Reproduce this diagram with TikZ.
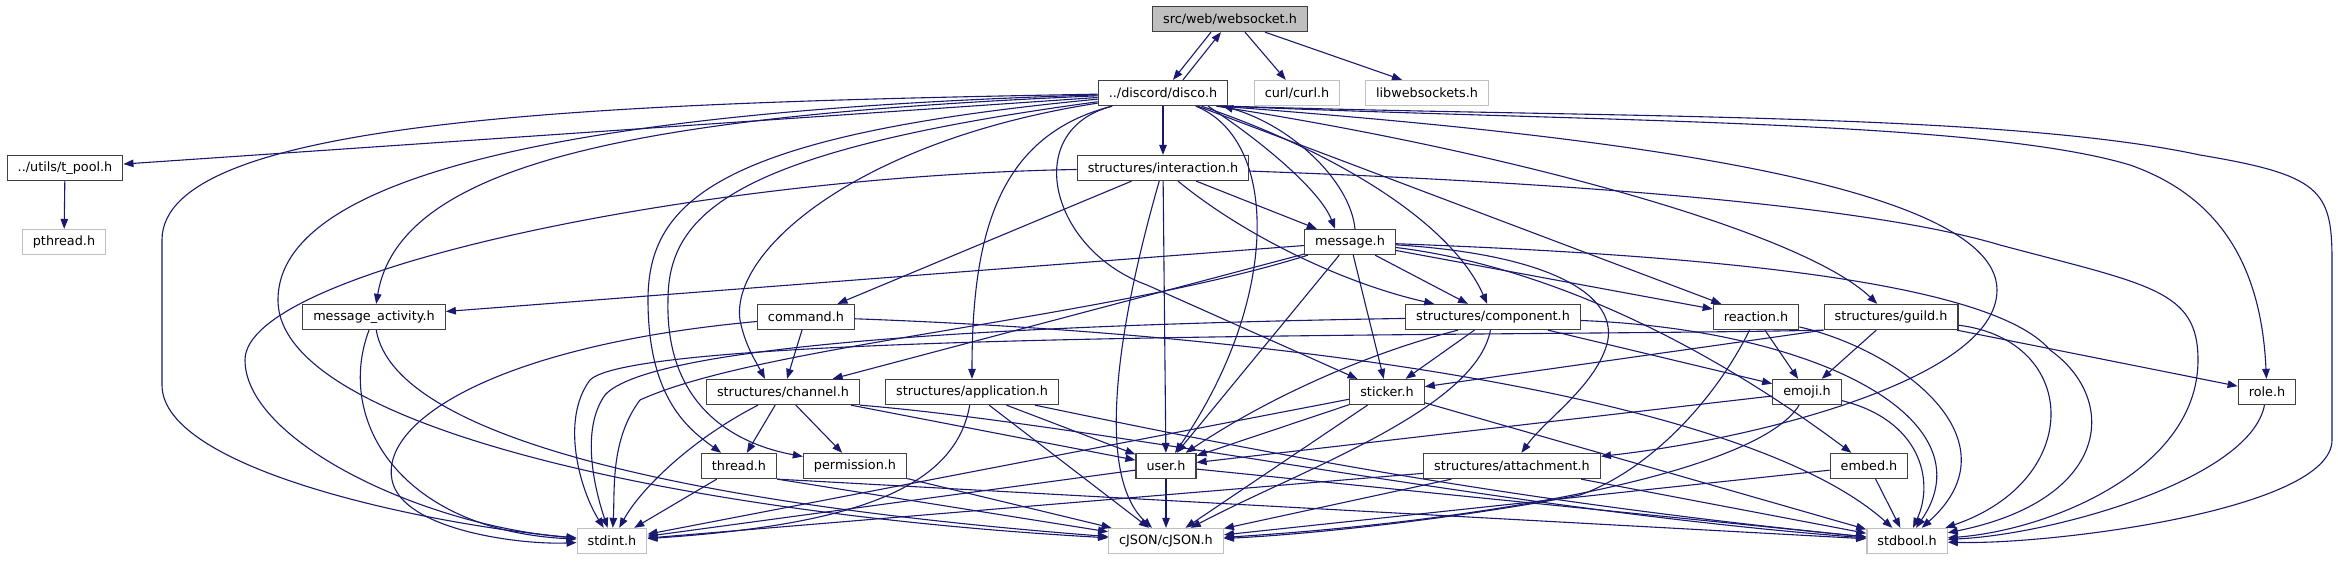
\documentclass[tikz,border=0pt]{standalone}
\usepackage{fontspec}
\setmainfont{DejaVu Sans}
\usetikzlibrary{arrows.meta}
\definecolor{edgec}{HTML}{191970}
\definecolor{nodeb}{HTML}{404040}
\definecolor{extb}{HTML}{BFBFBF}
\begin{document}
\begin{tikzpicture}[x=1pt,y=-1pt,
  box/.style={draw=nodeb, line width=1.3pt, fill=white, inner xsep=10.5pt, inner ysep=0pt, minimum height=25pt, font=\fontsize{12.8}{15}\selectfont, text=black},
  ext/.style={box, draw=extb},
  root/.style={box, fill=extb},
  dep/.style={draw=edgec, line width=1.1pt, -{Triangle[length=10pt,width=7.5pt]}},
]
\fill[white] (0,0) rectangle (2338,560);
\useasboundingbox (0,0) rectangle (2338,560);

% nodes
\node[root] (ws) at (1230,19) {src/web/websocket.h};
\node[box] (disco) at (1163,93) {../discord/disco.h};
\node[ext] (curl) at (1297,93) {curl/curl.h};
\node[ext] (lws) at (1427,93) {libwebsockets.h};
\node[box] (tpool) at (65,168) {../utils/t\_pool.h};
\node[box] (inter) at (1163,168) {structures/interaction.h};
\node[ext] (pthread) at (64,242) {pthread.h};
\node[box] (msg) at (1350,242) {message.h};
\node[box] (mact) at (374,317) {message\_activity.h};
\node[box] (cmd) at (806,317) {command.h};
\node[box] (comp) at (1493,317) {structures/component.h};
\node[box] (react) at (1756,317) {reaction.h};
\node[box] (guild) at (1891,317) {structures/guild.h};
\node[box] (chan) at (783,392) {structures/channel.h};
\node[box] (app) at (972,392) {structures/application.h};
\node[box] (stick) at (1387,392) {sticker.h};
\node[box] (emoji) at (1807,392) {emoji.h};
\node[box] (role) at (2267,392) {role.h};
\node[box] (thread) at (739,466) {thread.h};
\node[box] (perm) at (855,466) {permission.h};
\node[box] (user) at (1166,466) {user.h};
\node[box] (attach) at (1512,466) {structures/attachment.h};
\node[box] (embed) at (1869,466) {embed.h};
\node[ext] (stdint) at (612,541) {stdint.h};
\node[ext] (cjson) at (1166,541) {cJSON/cJSON.h};
\node[ext] (stdbool) at (1907,541) {stdbool.h};

% websocket
\draw[dep] ([xshift=-19pt]ws.south) -- ([xshift=10pt]disco.north);
\draw[dep] ([xshift=20pt]disco.north) -- ([xshift=-9pt]ws.south);
\draw[dep] ([xshift=15pt]ws.south) -- (curl);
\draw[dep] ([xshift=35pt]ws.south) -- ([xshift=-25pt]lws.north);

% disco
\draw[dep] (disco) -- (tpool);
\draw[dep] (disco) .. controls (600,103) and (162,118) .. (162,240) -- (162,385) .. controls (162,470) and (430,525) .. (stdint);
\draw[dep] (disco) .. controls (650,108) and (278,160) .. (278,300) .. controls (278,430) and (700,515) .. (cjson);
\draw[dep] (disco) .. controls (650,115) and (400,160) .. (mact);
\draw[dep] (disco) .. controls (720,135) and (648,200) .. (648,300) .. controls (648,400) and (690,430) .. (thread);
\draw[dep] (disco) .. controls (740,150) and (668,210) .. (668,300) .. controls (665,410) and (740,445) .. (perm);
\draw[dep] (disco) .. controls (860,140) and (730,250) .. (740,320) .. controls (745,345) and (755,360) .. ([xshift=-18pt]chan.north);
\draw[dep] (disco) .. controls (1000,135) and (972,230) .. (app);
\draw[dep] (disco) -- (inter);
\draw[dep] (disco) .. controls (1020,130) and (1050,250) .. (1147,285) -- (stick);
\draw[dep] (disco) .. controls (1280,140) and (1280,300) .. (user);
\draw[dep] ([xshift=45pt]disco.south) .. controls (1260,140) and (1320,190) .. ([xshift=-15pt]msg.north);
\draw[dep] ([xshift=5pt]msg.north) .. controls (1350,180) and (1290,125) .. ([xshift=60pt]disco.south);
\draw[dep] (disco) .. controls (1330,150) and (1450,220) .. (comp);
\draw[dep] (disco) -- (react);
\draw[dep] ([xshift=-12pt]disco.south east) .. controls (1500,150) and (1800,230) .. (guild);
\draw[dep] ([xshift=-8pt]disco.south east) .. controls (1500,128) and (1997,170) .. (1997,290) .. controls (1997,380) and (1750,440) .. (attach);
\draw[dep] ([xshift=-4pt]disco.south east) .. controls (1600,122) and (1980,120) .. (2130,165) .. controls (2230,200) and (2262,280) .. (role);
\draw[dep] (disco.south east) .. controls (1600,118) and (2000,112) .. (2200,155) .. controls (2320,175) and (2332,190) .. (2332,260) -- (2332,440) .. controls (2332,510) and (2050,545) .. (stdbool);

% t_pool
\draw[dep] (tpool) -- (pthread);

% interaction
\draw[dep] (inter) .. controls (700,176) and (245,270) .. (245,360) .. controls (245,440) and (420,525) .. (stdint);
\draw[dep] (inter) -- (cmd);
\draw[dep] (inter) .. controls (1125,300) and (1090,470) .. (cjson);
\draw[dep] (inter) -- (user);
\draw[dep] ([xshift=15pt]inter.south) .. controls (1250,240) and (1350,285) .. (comp);
\draw[dep] (inter) -- (msg);
\draw[dep] (inter) .. controls (1500,180) and (1850,200) .. (2000,245) .. controls (2150,285) and (2198,290) .. (2198,360) .. controls (2198,470) and (2050,530) .. (stdbool);

% message
\draw[dep] (msg) -- (mact);
\draw[dep] (msg) -- (chan);
\draw[dep] (msg) -- (user);
\draw[dep] (msg) -- (stick);
\draw[dep] (msg) -- (comp);
\draw[dep] (msg) -- (react);
\draw[dep] (msg) .. controls (1500,260) and (1660,310) .. (embed);
\draw[dep] (msg) .. controls (1560,255) and (1625,300) .. (1605,350) .. controls (1590,390) and (1545,420) .. (attach);
\draw[dep] (msg) .. controls (1700,255) and (1990,280) .. (2050,350) .. controls (2120,400) and (2110,500) .. (stdbool);
\draw[dep] (msg) .. controls (1100,320) and (760,345) .. (640,400) .. controls (610,440) and (615,490) .. (stdint);

% message_activity
\draw[dep] (mact) .. controls (335,420) and (400,530) .. (stdint);
\draw[dep] (mact) .. controls (395,440) and (700,505) .. (cjson);

% command
\draw[dep] (cmd) -- (chan);
\draw[dep] (cmd) .. controls (500,345) and (380,420) .. (392,480) .. controls (402,530) and (520,545) .. (stdint);
\draw[dep] (cmd) .. controls (1300,335) and (1750,400) .. (stdbool);

% component
\draw[dep] (comp) -- (stick);
\draw[dep] ([xshift=-35pt]comp.south) .. controls (1380,350) and (1280,390) .. (user);
\draw[dep] (comp) -- (emoji);
\draw[dep] (comp) .. controls (1475,410) and (1300,470) .. (cjson);
\draw[dep] (comp) .. controls (1000,325) and (650,345) .. (605,395) .. controls (580,430) and (595,490) .. (stdint);
\draw[dep] (comp) .. controls (1820,330) and (1990,420) .. (stdbool);

% reaction
\draw[dep] (react) -- (emoji);
\draw[dep] (react) .. controls (1715,400) and (1650,470) .. (1580,495) .. controls (1450,520) and (1300,535) .. (cjson);
\draw[dep] (react) .. controls (1900,350) and (2020,440) .. (stdbool);

% guild
\draw[dep] (guild.south west) -- (stick);
\draw[dep] (guild) -- (emoji);
\draw[dep] (guild) -- (role);
\draw[dep] (guild.south west) .. controls (1500,337) and (640,330) .. (590,380) .. controls (560,420) and (580,490) .. (stdint);
\draw[dep] (guild) .. controls (2080,340) and (2085,480) .. (stdbool);

% channel
\draw[dep] (chan) -- (thread);
\draw[dep] (chan) -- (perm);
\draw[dep] (chan) -- (user);
\draw[dep] ([xshift=-25pt]chan.south) .. controls (690,440) and (640,490) .. (stdint);
\draw[dep] (chan.south east) .. controls (1100,425) and (1500,510) .. (stdbool);

% application
\draw[dep] (app) -- (user);
\draw[dep] (app) -- (cjson);
\draw[dep] (app) .. controls (955,490) and (850,525) .. (stdint);
\draw[dep] (app) .. controls (1250,450) and (1500,500) .. (stdbool);

% sticker
\draw[dep] (stick) -- (user);
\draw[dep] (stick) -- (cjson);
\draw[dep] (stick) -- (stdint);
\draw[dep] (stick) -- (stdbool);

% emoji
\draw[dep] (emoji) -- (user);
\draw[dep] (emoji) .. controls (1760,470) and (1500,520) .. (cjson);
\draw[dep] (emoji) .. controls (1920,420) and (1935,480) .. (stdbool);

% role
\draw[dep] (role) .. controls (2250,480) and (2050,535) .. (stdbool);

% thread
\draw[dep] (thread) -- (stdint);
\draw[dep] (thread.south east) -- (cjson);
\draw[dep] (thread.south east) -- (stdbool);

% permission
\draw[dep] (perm) -- (cjson);

% user
\draw[dep] (user) -- (cjson);
\draw[dep] (user) -- (stdint);
\draw[dep] (user) -- (stdbool);

% attachment
\draw[dep] (attach) -- (cjson);
\draw[dep] (attach) -- (stdint);
\draw[dep] (attach) -- (stdbool);

% embed
\draw[dep] (embed) -- (cjson);
\draw[dep] (embed) -- (stdbool);
\end{tikzpicture}
\end{document}
